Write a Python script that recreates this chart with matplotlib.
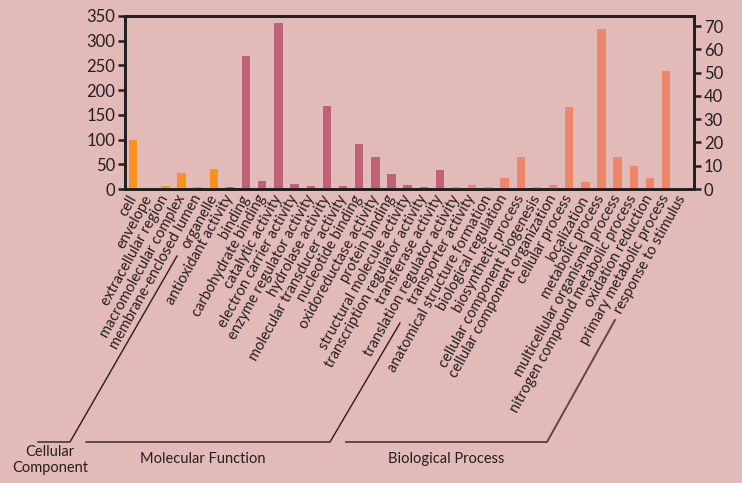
import numpy as np
import matplotlib
matplotlib.use("Agg")
import matplotlib.pyplot as plt
from matplotlib.lines import Line2D

plt.rcParams['font.family'] = ['Lato', 'DejaVu Sans']

# bars read against the left axis (counts)
left_terms = ["cell", "envelope", "extracellular region", "macromolecular complex",
              "membrane-enclosed lumen", "organelle",
              "antioxidant activity", "binding", "carbohydrate binding", "catalytic activity",
              "electron carrier activity", "enzyme regulator activity", "hydrolase activity",
              "molecular transducer activity", "nucleotide binding", "oxidoreductase activity",
              "protein binding", "structural molecule activity",
              "transcription regulator activity", "transferase activity"]
left_values = [100, 3, 7, 32, 5, 41,
               5, 270, 16, 335, 11, 6, 167, 6, 91, 65, 30, 8, 5, 38]

# bars read against the right axis
right_terms = ["translation regulator activity", "transporter activity",
               "anatomical structure formation", "biological regulation",
               "biosynthetic process", "cellular component biogenesis",
               "cellular component organization", "cellular process", "localization",
               "metabolic process", "multicellular organismal process",
               "nitrogen compound metabolic process", "oxidation reduction",
               "primary metabolic process", "response to stimulus"]
right_values = [0.7, 1.6, 0.7, 4.7, 13.7, 1.0, 1.8, 35.2, 2.9, 68.6, 13.6, 9.7, 4.7, 50.8, 0.5]

n_cc = 6
group_names = ["Cellular\nComponent", "Molecular Function", "Biological Process"]

BG = "#e2bab7"
INK = "#231f20"
ORANGE = "#f7931e"
PINK = "#c06277"
SALMON = "#ee866b"

W, H = 742, 483
fig = plt.figure(figsize=(W / 100, H / 100), dpi=100, facecolor=BG)
ax = fig.add_axes([125 / W, 1 - 189 / H, (694 - 125) / W, (189 - 16) / H])
ax.set_facecolor(BG)

x_left = np.arange(len(left_terms))
x_right = np.arange(len(left_terms), len(left_terms) + len(right_terms))
left_colors = [ORANGE] * n_cc + [PINK] * (len(left_terms) - n_cc)

ax.bar(x_left, left_values, width=0.52, color=left_colors, zorder=2)
ax.set_ylim(0, 350)
ax.set_yticks(np.arange(0, 351, 50))
ax.set_xlim(-0.5, len(left_terms) + len(right_terms) - 0.27)

ax2 = ax.twinx()
ax2.bar(x_right, right_values, width=0.52, color=SALMON, zorder=2)
ax2.set_ylim(0, 74.3)
ax2.set_yticks(np.arange(0, 71, 10))

for a in (ax, ax2):
    for s in a.spines.values():
        s.set_linewidth(2.0)
        s.set_color(INK)
    a.tick_params(axis='y', direction='out', length=5, width=1.8, colors=INK,
                  labelsize=12, pad=2)

ax.set_xticks(np.concatenate([x_left, x_right]))
ax.set_xticklabels(left_terms + right_terms, rotation=61, ha='right', va='center',
                   rotation_mode='anchor', fontsize=10.5, color=INK)
ax.tick_params(axis='x', length=0, pad=5)

# group brackets below the labels (figure pixel coordinates)
def px_line(xs, ys, color=INK, lw=1.0):
    fig.add_artist(Line2D([x / W for x in xs], [1 - y / H for y in ys],
                          color=color, lw=lw, transform=fig.transFigure))

px_line([38, 70, 177], [442, 442, 256])
px_line([86, 330, 400], [442, 442, 323])
px_line([346, 547, 615], [442, 442, 320], color="#5a4a4a", lw=1.4)

label_pos = [(50, 460), (203, 459), (446, 459)]
for name, (lx, ly) in zip(group_names, label_pos):
    fig.text(lx / W, 1 - ly / H, name, ha='center', va='center', fontsize=10.5,
             color=INK, linespacing=1.1)

fig.savefig("out.png", dpi=100, facecolor=BG)
